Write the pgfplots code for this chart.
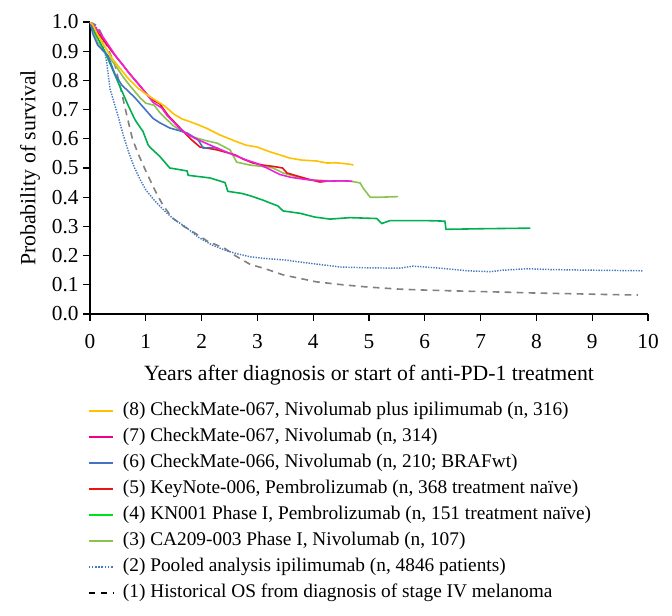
\documentclass[border=0pt]{standalone}
\usepackage{pgfplots}
\pgfplotsset{compat=1.18}
\usepackage{fontspec}
\setmainfont{Liberation Serif}
\definecolor{cYel}{RGB}{255,192,0}
\definecolor{cMag}{RGB}{240,30,220}
\definecolor{cBlu}{RGB}{68,114,196}
\definecolor{cRed}{RGB}{230,20,20}
\definecolor{cGrn}{RGB}{0,176,80}
\definecolor{cGrnL}{RGB}{0,225,30}
\definecolor{cLgr}{RGB}{140,195,80}
\definecolor{cDot}{RGB}{70,120,190}
\definecolor{cDash}{RGB}{128,128,128}
\begin{document}
\begin{tikzpicture}
\begin{axis}[
  scale only axis, width=418.5pt, height=219pt,
  xmin=0, xmax=10, ymin=0, ymax=1,
  axis lines=left, axis line style={-, line width=1.1pt},
  xtick={0,1,...,10}, ytick={0,0.1,...,1.0},
  tick align=outside, major tick length=5pt,
  tick style={black, line width=1pt},
  yticklabel style={/pgf/number format/.cd, fixed, fixed zerofill, precision=1},
  /pgf/number format/assume math mode=true,
  ticklabel style={font=\fontsize{16}{19}\selectfont},
  xticklabel style={yshift=-7pt},
  xlabel={Years after diagnosis or start of anti-PD-1 treatment},
  ylabel={Probability of survival},
  label style={font=\fontsize{16.3}{19}\selectfont},
  xlabel style={yshift=-5pt},
  ylabel style={yshift=2pt},
  legend style={at={(0,0)}, anchor=north west, xshift=-2pt, yshift=-63.5pt, draw=none, fill=none,
    inner sep=0pt, row sep=1.5pt, font=\fontsize{14.5}{17}\selectfont,
    nodes={inner sep=2pt, text height=10.5pt, text depth=3.5pt}},
  legend cell align=left,
  legend image code/.code={\draw[#1] (0pt,0pt) -- (18.5pt,0pt); \path (23pt,0pt);},
  every axis plot/.append style={line width=1.2pt},
]
% (1) historical
\addplot[cDash, dash pattern=on 5pt off 4pt, forget plot] coordinates {
(0,1.0) (0.1,0.99) (0.18,0.97) (0.3,0.92) (0.45,0.85) (0.54,0.78) (0.66,0.68) (0.76,0.6) (0.86,0.55) (1.0,0.49) (1.16,0.425) (1.3,0.375) (1.47,0.33) (1.68,0.3) (1.88,0.277) (2.1,0.25) (2.42,0.224) (2.6,0.2) (2.87,0.17) (3.14,0.155) (3.46,0.134) (3.76,0.122) (4.06,0.11) (4.53,0.1) (5,0.092) (5.56,0.085) (6.0,0.082) (6.76,0.078) (7.4,0.075) (7.94,0.072) (8.5,0.07) (9.2,0.067) (9.82,0.065)};
% (2) pooled ipilimumab
\addplot[cDot, line width=1.1pt, dash pattern=on 1pt off 1pt, forget plot] coordinates {
(0,1.0) (0.08,0.99) (0.21,0.955) (0.3,0.86) (0.36,0.77) (0.5,0.68) (0.6,0.61) (0.7,0.55) (0.8,0.5) (0.9,0.46) (1.0,0.425) (1.15,0.39) (1.34,0.352) (1.5,0.325) (1.7,0.30) (1.95,0.262) (2.19,0.236) (2.4,0.22) (2.6,0.208) (2.87,0.196) (3.14,0.19) (3.5,0.185) (3.76,0.178) (4.1,0.17) (4.48,0.161) (5.0,0.158) (5.56,0.157) (5.79,0.164) (6.2,0.158) (6.76,0.148) (7.17,0.145) (7.4,0.15) (7.83,0.155) (8.3,0.152) (9.0,0.15) (9.91,0.148)};
% (3) CA209-003
\addplot[cLgr, forget plot] coordinates {
(0,1.0) (0.14,0.93) (0.3,0.89) (0.45,0.853) (0.6,0.81) (0.75,0.774) (0.9,0.74) (1.0,0.722) (1.15,0.715) (1.25,0.69) (1.49,0.645) (1.7,0.62) (1.85,0.606) (2.05,0.595) (2.28,0.585) (2.51,0.562) (2.63,0.52) (2.87,0.51) (3.1,0.505) (3.28,0.5) (3.46,0.483) (3.7,0.47) (3.94,0.459) (4.3,0.456) (4.66,0.455) (4.84,0.449) (4.9,0.43) (5.02,0.40) (5.2,0.40) (5.52,0.402)};
% (4) KN001
\addplot[cGrn, forget plot] coordinates {
(0,1.0) (0.1,0.96) (0.27,0.897) (0.5,0.795) (0.68,0.716) (0.81,0.664) (0.95,0.625) (1.04,0.58) (1.08,0.57) (1.25,0.54) (1.43,0.50) (1.74,0.49) (1.76,0.475) (2.15,0.466) (2.42,0.45) (2.47,0.42) (2.72,0.413) (2.87,0.405) (3.1,0.39) (3.23,0.38) (3.37,0.37) (3.46,0.353) (3.76,0.345) (4.03,0.332) (4.3,0.325) (4.66,0.33) (5.14,0.327) (5.23,0.31) (5.38,0.32) (6.0,0.32) (6.36,0.318) (6.38,0.29) (7.0,0.292) (7.89,0.294)};
% (5) KeyNote-006
\addplot[cRed, forget plot] coordinates {
(0,1.0) (0.1,0.975) (0.25,0.935) (0.45,0.885) (0.6,0.85) (0.7,0.825) (0.9,0.78) (1.1,0.735) (1.25,0.72) (1.4,0.68) (1.6,0.64) (1.8,0.6) (1.97,0.572) (2.1,0.568) (2.28,0.562) (2.45,0.553) (2.6,0.545) (2.75,0.53) (2.92,0.517) (3.1,0.51) (3.3,0.505) (3.45,0.5) (3.53,0.483) (3.76,0.47) (3.95,0.46) (4.12,0.452) (4.25,0.455)};
% (6) CheckMate-066
\addplot[cBlu, forget plot] coordinates {
(0,1.0) (0.05,0.96) (0.14,0.92) (0.32,0.885) (0.45,0.82) (0.57,0.784) (0.81,0.74) (0.9,0.72) (1.13,0.67) (1.25,0.655) (1.43,0.637) (1.6,0.628) (1.74,0.62) (1.94,0.596) (2.03,0.568) (2.15,0.57) (2.3,0.568)};
% (7) CheckMate-067 nivolumab
\addplot[cMag, forget plot] coordinates {
(0,1.0) (0.1,0.98) (0.21,0.955) (0.45,0.887) (0.68,0.83) (0.93,0.774) (1.13,0.725) (1.29,0.705) (1.38,0.68) (1.61,0.635) (1.75,0.615) (1.92,0.598) (2.1,0.583) (2.28,0.568) (2.57,0.545) (2.81,0.527) (3.0,0.515) (3.17,0.5) (3.4,0.478) (3.6,0.468) (3.82,0.462) (4.0,0.458) (4.25,0.455) (4.5,0.456) (4.7,0.455)};
% (8) CheckMate-067 nivo+ipi
\addplot[cYel, forget plot] coordinates {
(0,1.0) (0.05,0.99) (0.14,0.955) (0.25,0.92) (0.39,0.877) (0.5,0.85) (0.68,0.808) (0.85,0.775) (0.99,0.755) (1.15,0.735) (1.34,0.712) (1.5,0.685) (1.65,0.668) (1.8,0.658) (1.94,0.648) (2.1,0.635) (2.33,0.613) (2.5,0.6) (2.63,0.59) (2.8,0.578) (2.99,0.572) (3.23,0.555) (3.4,0.545) (3.58,0.534) (3.8,0.527) (4.06,0.524) (4.25,0.517) (4.4,0.518) (4.66,0.513) (4.72,0.51)};
\addlegendimage{cYel, line width=1.5pt}
\addlegendentry{(8) CheckMate-067, Nivolumab plus ipilimumab (n, 316)}
\addlegendimage{magenta, line width=1.5pt}
\addlegendentry{(7) CheckMate-067, Nivolumab (n, 314)}
\addlegendimage{cBlu, line width=1.5pt}
\addlegendentry{(6) CheckMate-066, Nivolumab (n, 210; BRAFwt)}
\addlegendimage{cRed, line width=1.5pt}
\addlegendentry{(5) KeyNote-006, Pembrolizumab (n, 368 treatment naïve)}
\addlegendimage{cGrnL, line width=1.5pt}
\addlegendentry{(4) KN001 Phase I, Pembrolizumab (n, 151 treatment naïve)}
\addlegendimage{cLgr, line width=1.5pt}
\addlegendentry{(3) CA209-003 Phase I, Nivolumab (n, 107)}
\addlegendimage{cDot, line width=1.5pt, dash pattern=on 1.2pt off 1.2pt}
\addlegendentry{(2) Pooled analysis ipilimumab (n, 4846 patients)}
\addlegendimage{black, line width=1.5pt, dash pattern=on 5pt off 4pt}
\addlegendentry{(1) Historical OS from diagnosis of stage IV melanoma}
\end{axis}
\pgfresetboundingbox
\useasboundingbox (-67.5pt,-225.75pt) rectangle (436.5pt,235.5pt);
\end{tikzpicture}
\end{document}
